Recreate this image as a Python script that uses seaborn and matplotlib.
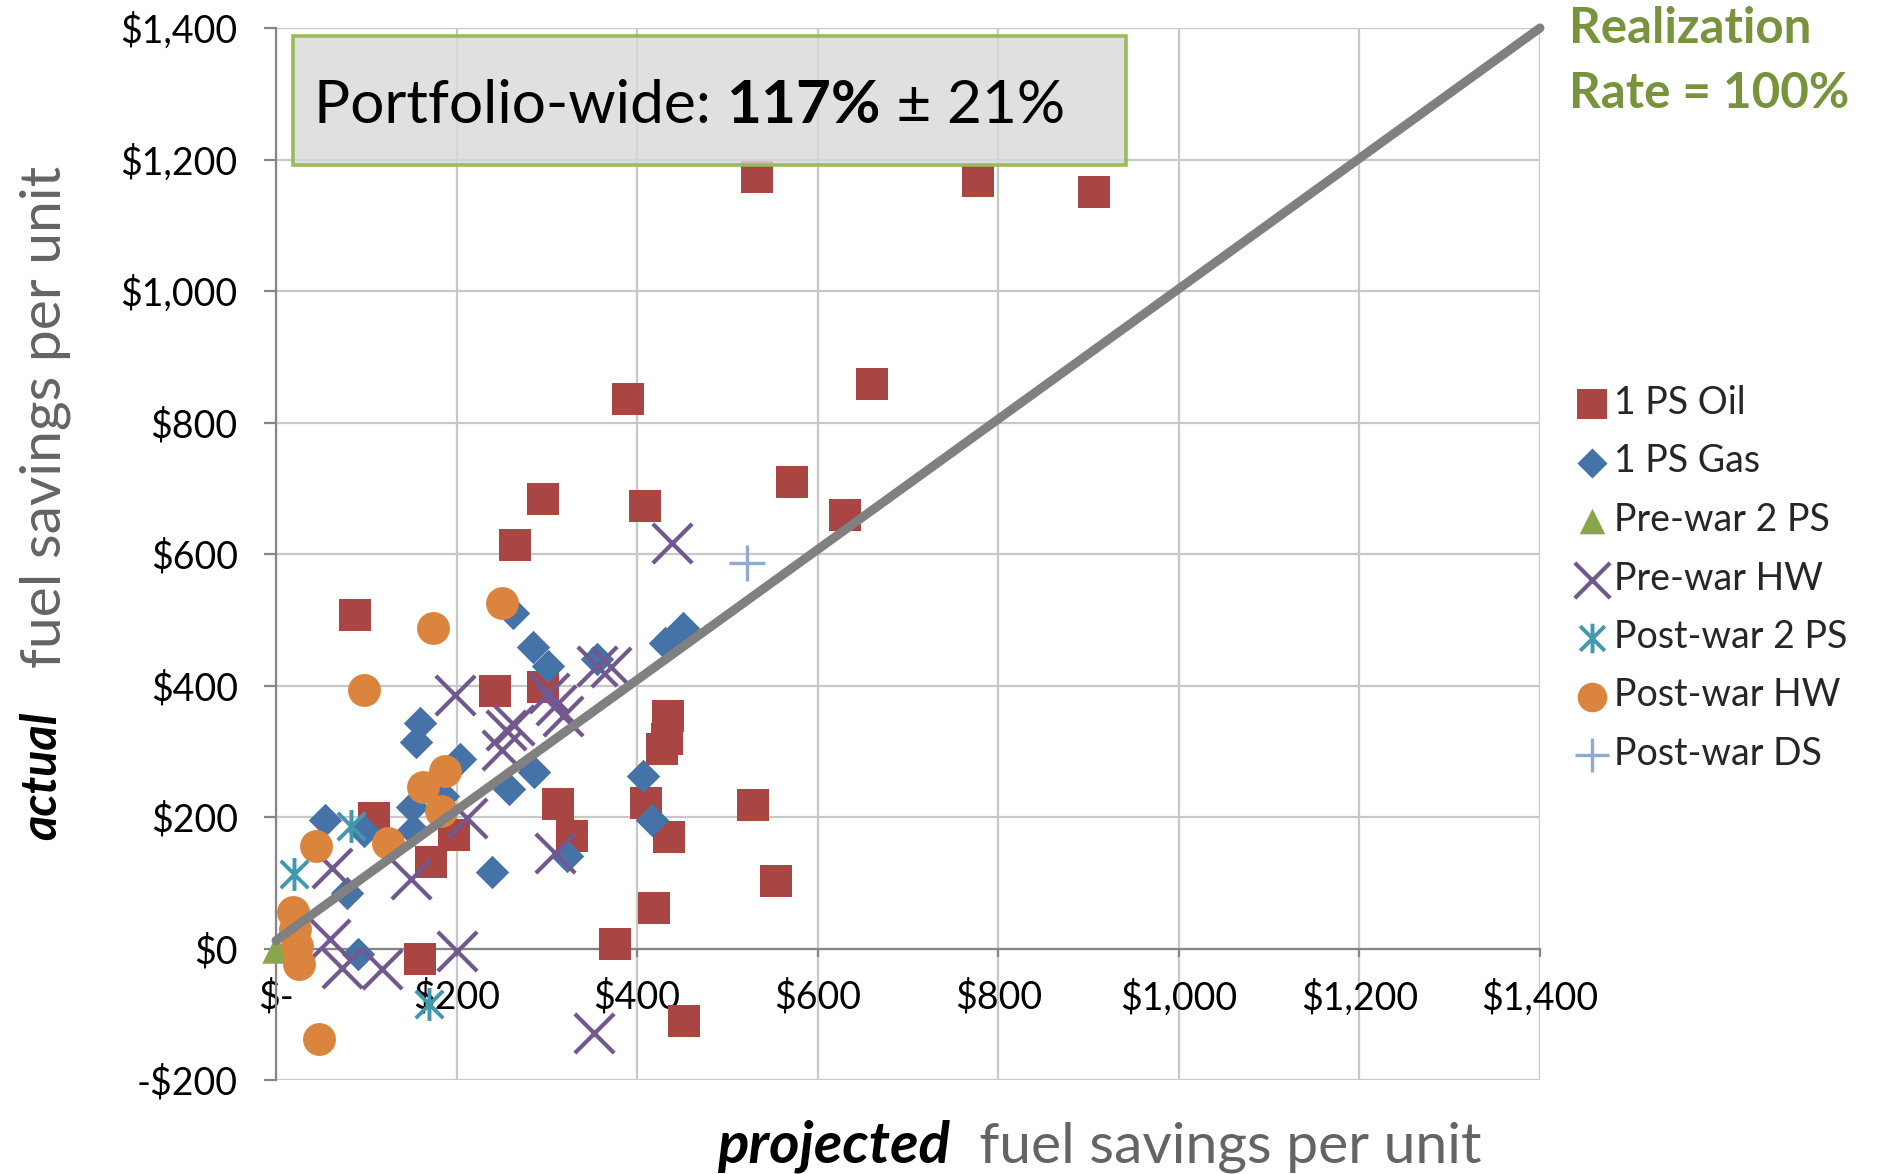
import matplotlib
matplotlib.use("Agg")
import matplotlib.pyplot as plt
from matplotlib.path import Path
from matplotlib.patches import Rectangle
import seaborn as sns

# ---- data: projected vs. actual fuel savings per unit ($) ----
oil_x = [87, 108, 159, 172, 197, 243, 265, 296, 296, 312, 328, 375, 390, 409, 410,
         419, 428, 433, 434, 435, 452, 528, 533, 554, 572, 630, 660, 778, 906]
oil_y = [507, 199, -16, 131, 172, 392, 614, 683, 398, 220, 171, 7, 836, 673, 222,
         61, 304, 318, 354, 170, -110, 218, 1174, 103, 710, 660, 859, 1167, 1150]

gas_x = [54, 97, 79, 91, 151, 152, 155, 159, 185, 204, 239, 258, 262, 285, 286,
         301, 322, 356, 407, 416, 431, 451]
gas_y = [196, 178, 85, -9, 215, 180, 314, 343, 232, 288, 116, 242, 510, 458, 268,
         430, 140, 440, 262, 195, 465, 487]

prewar_2ps_x = [0]
prewar_2ps_y = [0]

prewar_hw_x = [198, 250, 255, 264, 302, 310, 318, 356, 371, 439, 211, 62, 149, 309,
               60, 73, 117, 201, 352]
prewar_hw_y = [386, 302, 332, 340, 388, 370, 353, 430, 428, 616, 199, 122, 105, 146,
               14, -29, -31, -4, -128]

postwar_2ps_x = [83, 20, 169]
postwar_2ps_y = [186, 113, -85]

postwar_hw_x = [250, 174, 97, 187, 163, 183, 44, 124, 19, 21, 23, 25, 48]
postwar_hw_y = [526, 488, 393, 270, 245, 209, 156, 161, 55, 29, 4, -24, -138]

postwar_ds_x = [522]
postwar_ds_y = [586]

# realization-rate reference line
rate_x = [0, 1400]
rate_y = [12, 1400]

xtick_vals = [0, 200, 400, 600, 800, 1000, 1200, 1400]
xtick_labels = ["$-", "$200", "$400", "$600", "$800", "$1,000", "$1,200", "$1,400"]
ytick_vals = [-200, 0, 200, 400, 600, 800, 1000, 1200, 1400]
ytick_labels = ["-$200", "$0", "$200", "$400", "$600", "$800", "$1,000", "$1,200", "$1,400"]

sns.set_theme(style="white")
plt.rcParams["font.family"] = ["Lato", "DejaVu Sans"]

fig = plt.figure(figsize=(18.81, 11.74), dpi=100)
ax = fig.add_axes([276 / 1881, 1 - 1080 / 1174, (1540 - 276) / 1881, (1080 - 28) / 1174])

# six-armed asterisk (X plus vertical bar)
asterisk = Path(
    [(-0.5, -0.5), (0.5, 0.5), (-0.5, 0.5), (0.5, -0.5), (0, -0.6), (0, 0.6)],
    [Path.MOVETO, Path.LINETO, Path.MOVETO, Path.LINETO, Path.MOVETO, Path.LINETO],
)

series = [
    ("1 PS Oil", oil_x, oil_y, "#A94543", "s", 560, True, 0),
    ("1 PS Gas", gas_x, gas_y, "#4572A7", "D", 290, True, 0),
    ("Pre-war 2 PS", prewar_2ps_x, prewar_2ps_y, "#89A54E", "^", 420, True, 0),
    ("Pre-war HW", prewar_hw_x, prewar_hw_y, "#71588F", "x", 800, False, 3.0),
    ("Post-war 2 PS", postwar_2ps_x, postwar_2ps_y, "#4198AF", asterisk, 560, False, 2.8),
    ("Post-war HW", postwar_hw_x, postwar_hw_y, "#DB843D", "o", 560, True, 0),
    ("Post-war DS", postwar_ds_x, postwar_ds_y, "#93A9CF", "+", 700, False, 2.4),
]

for i, (name, xs, ys, col, mk, size, filled, lw) in enumerate(series):
    sns.scatterplot(x=xs, y=ys, ax=ax, marker=mk, s=size, color=col,
                    edgecolor=col, linewidth=lw, label=name, zorder=3 + i * 0.01,
                    clip_on=False)

sns.lineplot(x=rate_x, y=rate_y, ax=ax, color="#808080", linewidth=6.5,
             zorder=5, clip_on=False, legend=False)

ax.set_xlim(0, 1400)
ax.set_ylim(-200, 1400)
ax.set_xticks(xtick_vals)
ax.set_xticklabels(xtick_labels)
ax.set_yticks(ytick_vals)
ax.set_yticklabels(ytick_labels)
ax.grid(True, color="#C8C8C8", linewidth=1.6)
ax.set_axisbelow(True)

for side in ["top", "right"]:
    ax.spines[side].set_visible(False)
ax.spines["bottom"].set_position(("data", 0))
for side in ["left", "bottom"]:
    ax.spines[side].set_color("#868686")
    ax.spines[side].set_linewidth(1.6)
    ax.spines[side].set_zorder(2.5)

ax.tick_params(axis="y", direction="out", length=8.6, width=1.6, color="#868686",
               pad=19, labelsize=27, labelcolor="black", left=True)
ax.tick_params(axis="x", direction="out", length=6, width=1.6, color="#868686",
               pad=16, labelsize=27, labelcolor="black", bottom=True)
ax.set_xlabel("")
ax.set_ylabel("")

# portfolio-wide result box
box = Rectangle((19, 1192), 923, 196, facecolor=(0.85, 0.85, 0.85, 0.8),
                edgecolor="#9BBB59", linewidth=2.6, zorder=6, clip_on=False)
ax.add_patch(box)
t1 = fig.text(314 / 1881, 1 - 106 / 1174, "Portfolio-wide: ", fontsize=43.5,
              va="center", ha="left", color="black", zorder=7)
t2 = ax.annotate("117%", xy=(1, 0), xycoords=t1, va="bottom", ha="left",
                 fontsize=43.5, fontweight="bold", color="black", zorder=7)
t3 = ax.annotate(" \u00b1 21%", xy=(1, 0), xycoords=t2, va="bottom", ha="left",
                 fontsize=43.5, color="black", zorder=7)

# reference-line caption
fig.text(1569 / 1881, 1 - 6 / 1174, "Realization\nRate = 100%", fontsize=35.5,
         fontweight="bold", color="#77933C", va="top", ha="left", linespacing=1.53)

# axis titles with emphasised first word
yl1 = fig.text(42 / 1881, 1 - 840 / 1174, "actual", rotation=90, fontsize=35,
               fontweight="bold", fontstyle="italic", color="black",
               ha="center", va="bottom")
ax.annotate("   fuel savings per unit", xy=(0, 1), xycoords=yl1, rotation=90,
            fontsize=41, color="#646464", ha="left", va="bottom",
            annotation_clip=False)

xl1 = fig.text(717 / 1881, 1 - 1173 / 1174, "projected", fontsize=42,
               fontweight="bold", fontstyle="italic", color="black",
               ha="left", va="bottom")
ax.annotate("  fuel savings per unit", xy=(1, 0), xycoords=xl1, fontsize=41,
            color="#646464", ha="left", va="bottom", annotation_clip=False)

leg = ax.legend(loc="upper left", bbox_to_anchor=(1573 / 1881, 1 - 385 / 1174),
                bbox_transform=fig.transFigure, frameon=False, fontsize=27,
                markerscale=0.9, handletextpad=0.1, labelspacing=0.6,
                handlelength=1.0, borderpad=0, borderaxespad=0, scatterpoints=1)

fig.savefig("out.png", dpi=100)
